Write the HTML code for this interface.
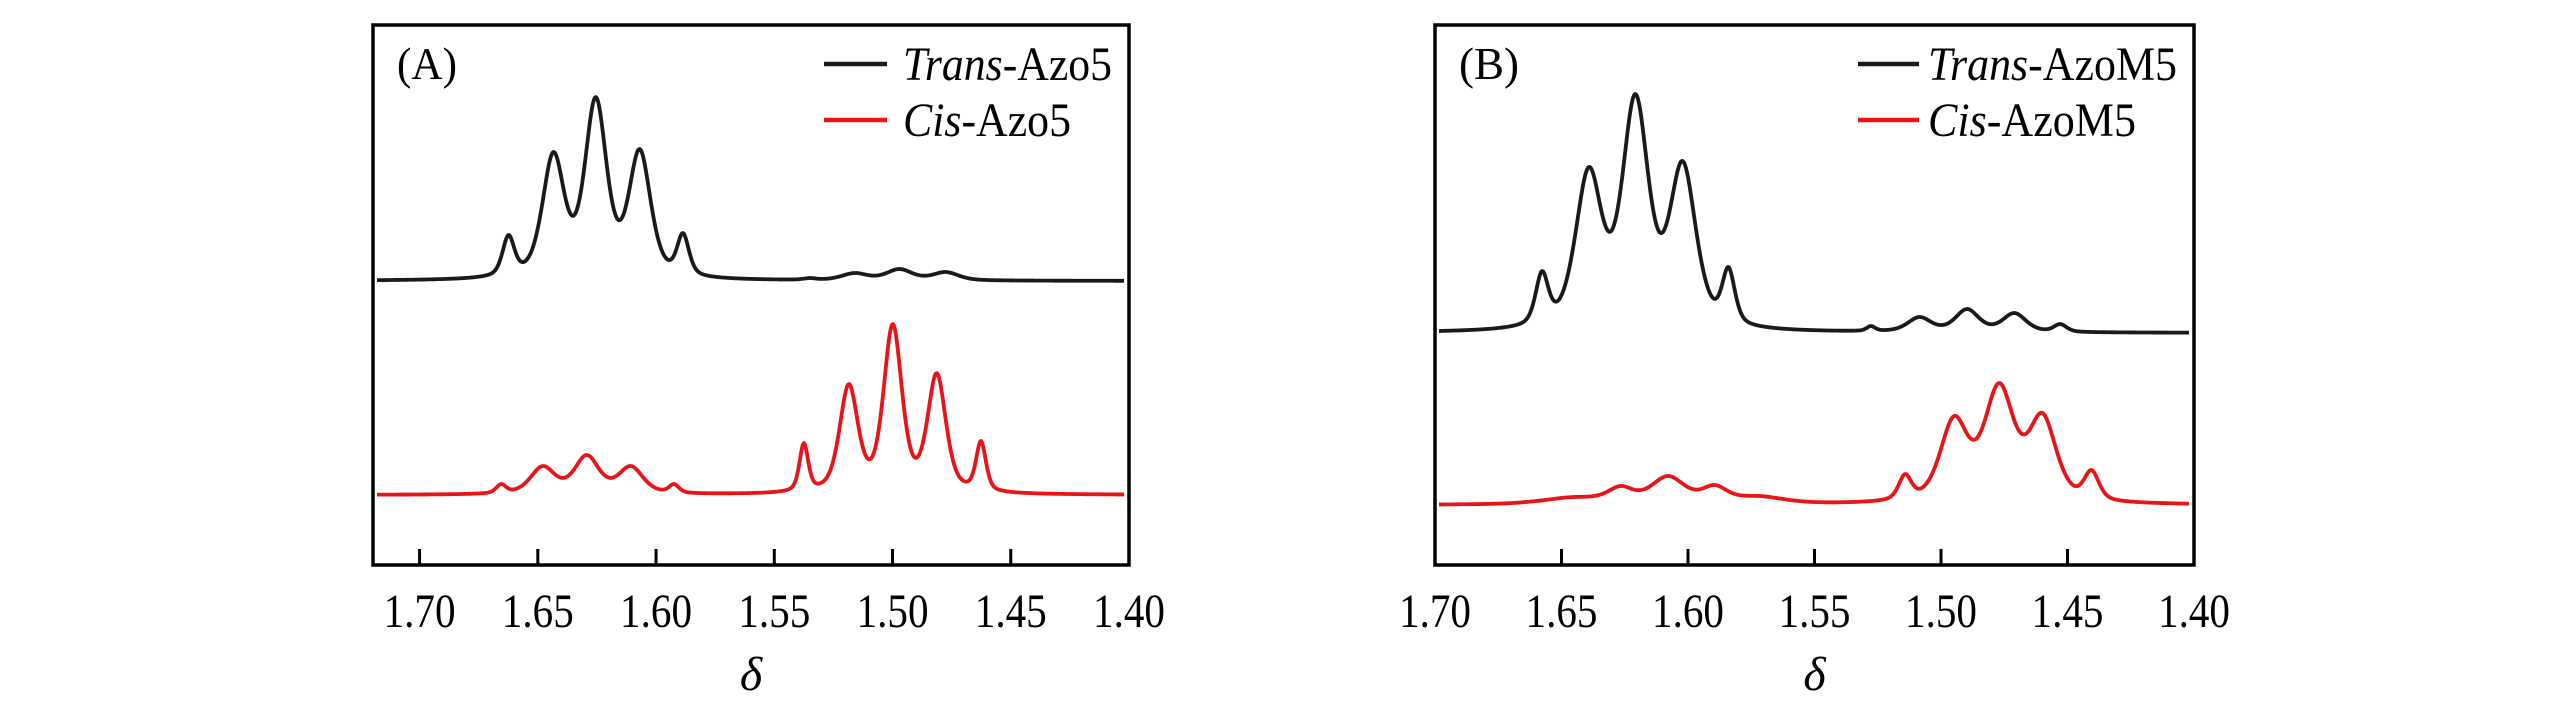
<!DOCTYPE html>
<html><head><meta charset="utf-8"><style>
html,body{margin:0;padding:0;background:#fff;}
svg{display:block;}
text{font-family:"Liberation Serif",serif;fill:#000;}
</style></head><body>
<svg id="fig" width="2567" height="709" viewBox="0 0 2567 709" xmlns="http://www.w3.org/2000/svg">
<rect width="2567" height="709" fill="#fff"/>
<g id="panelA"></g>
<g id="panelB"></g>
</svg>
<script>
// ---- Panel A data (ppm positions, peak heights above baseline in px-units, half widths ppm)
const aTicks = [1.70, 1.65, 1.60, 1.55, 1.50, 1.45, 1.40];
const aTickLabels = ["1.70","1.65","1.60","1.55","1.50","1.45","1.40"];
const aTransPos = [1.6624, 1.6434, 1.6255, 1.6069, 1.5886, 1.535, 1.516, 1.4971, 1.4775];
const aTransH   = [46, 129, 184, 132, 48, 3, 8, 12, 9];
const aTransW   = [0.003, 0.0055, 0.0055, 0.0055, 0.003, 0.003, 0.0065, 0.0065, 0.0065];
const aCisPos = [1.6655, 1.6479, 1.6293, 1.6107, 1.5924, 1.5375, 1.5185, 1.4999, 1.4813, 1.4626];
const aCisH   = [11, 29, 40, 29, 11, 52, 111, 171, 122, 54];
const aCisW   = [0.0025, 0.0062, 0.0062, 0.0062, 0.0025, 0.0022, 0.0046, 0.0046, 0.0046, 0.0025];
// ---- Panel B data
const bTicks = [1.70, 1.65, 1.60, 1.55, 1.50, 1.45, 1.40];
const bTickLabels = ["1.70","1.65","1.60","1.55","1.50","1.45","1.40"];
const bTransPos = [1.6577, 1.6392, 1.6208, 1.6021, 1.5840, 1.5277, 1.5085, 1.4897, 1.4710, 1.4529];
const bTransH   = [62, 166, 239, 172, 66, 7, 16, 24, 20, 9];
const bTransW   = [0.003, 0.0062, 0.0062, 0.0062, 0.003, 0.002, 0.0055, 0.0055, 0.0055, 0.003];
const bCisPos = [1.645, 1.6266, 1.6079, 1.5895, 1.572, 1.5142, 1.4948, 1.4770, 1.4599, 1.4405];
const bCisH   = [8, 19, 29, 20, 9, 31, 89, 122, 92, 35];
const bCisW   = [0.015, 0.006, 0.008, 0.006, 0.012, 0.003, 0.0065, 0.007, 0.0065, 0.0035];

const NS = "http://www.w3.org/2000/svg";
function mk(tag, attrs, parent){const e=document.createElementNS(NS,tag);for(const k in attrs)e.setAttribute(k,attrs[k]);parent.appendChild(e);return e;}

function lor(x,p,w){const d=(x-p)/w;return 0.5/(1+d*d)+0.5*Math.exp(-0.6931*d*d);}
function solveAmps(pos,h,w){
  const n=pos.length;const M=[];
  for(let i=0;i<n;i++){M.push([]);for(let j=0;j<n;j++)M[i].push(lor(pos[i],pos[j],w[j]));M[i].push(h[i]);}
  for(let c=0;c<n;c++){let piv=c;for(let r=c+1;r<n;r++)if(Math.abs(M[r][c])>Math.abs(M[piv][c]))piv=r;
    [M[c],M[piv]]=[M[piv],M[c]];
    for(let r=0;r<n;r++){if(r===c)continue;const f=M[r][c]/M[c][c];for(let k=c;k<=n;k++)M[r][k]-=f*M[c][k];}}
  return M.map((r,i)=>Math.max(0,r[n]/r[i]));
}

function panel(g, cfg){
  const {x0,x1,y0,y1,xmin,xmax} = cfg;
  const xs = v => x0 + (xmin - v)/(xmin - xmax)*(x1-x0);
  const ys = (v,base) => base - v;
  cfg.series.forEach(s=>{
    const amps = solveAmps(s.pos,s.h,s.w);
    let d="";
    for(let px=s.from; px<=s.to; px+=1){
      const ppm = xmin - (px-x0)/(x1-x0)*(xmin-xmax);
      let v=0; for(let i=0;i<amps.length;i++) v+=amps[i]*lor(ppm,s.pos[i],s.w[i]);
      d += (d?"L":"M")+px.toFixed(1)+","+ys(v,s.base).toFixed(2);
    }
    const p = mk("path",{d:d,fill:"none",stroke:s.color,"stroke-width":3.8,"stroke-linejoin":"round"},g);
    
    
  });
  const fr = mk("rect",{x:x0,y:y0,width:x1-x0,height:y1-y0,fill:"none",stroke:"#000","stroke-width":3.5},g);
  
  
  cfg.ticks.forEach((t,i)=>{
    const x = xs(t);
    if (x > x0+3 && x < x1-3) {
      const tk = mk("line",{x1:x,x2:x,y1:y1,y2:y1-16,stroke:"#000","stroke-width":3},g);
      
      
    }
    const lb = mk("text",{x:x,y:627,"text-anchor":"middle","font-size":48,textLength:72,lengthAdjust:"spacingAndGlyphs"},g);
    lb.textContent = cfg.tickLabels[i];
    
    
  });
  const at = mk("text",{x:(x0+x1)/2,y:690,"text-anchor":"middle","font-size":48,"font-style":"italic"},g);
  at.textContent = "δ";
  
  
  const pl = mk("text",{x:cfg.labelX,y:79,"font-size":46,textLength:60,lengthAdjust:"spacingAndGlyphs"},g);
  pl.textContent = cfg.label;
  
  
  cfg.legend.forEach((l,i)=>{
    const y = 64 + i*56;
    const ln = mk("line",{x1:cfg.legX0,x2:cfg.legX1,y1:y,y2:y,stroke:l.color,"stroke-width":4.5},g);
    
    
    const tx = mk("text",{x:cfg.legTX,y:y+16,"font-size":48,textLength:l.len,lengthAdjust:"spacingAndGlyphs"},g);
    const it = mk("tspan",{"font-style":"italic"},tx); it.textContent = l.it;
    const rest = mk("tspan",{},tx); rest.textContent = l.rest;
    
    
  });
}

panel(document.getElementById("panelA"),{
  x0:373,x1:1129,y0:25,y1:565,xmin:1.7197,xmax:1.40,
  ticks:aTicks,tickLabels:aTickLabels,label:"(A)",labelX:397,
  legX0:824,legX1:887,legTX:903,
  legend:[{color:"#1a1a1a",it:"Trans",rest:"-Azo5",len:209},{color:"#e8141a",it:"Cis",rest:"-Azo5",len:168}],
  series:[
    {name:"trans-azo5-spectrum",color:"#1a1a1a",base:281,from:377,to:1124,pos:aTransPos,h:aTransH,w:aTransW},
    {name:"cis-azo5-spectrum",color:"#e8141a",base:495,from:377,to:1124,pos:aCisPos,h:aCisH,w:aCisW}
  ]
});
panel(document.getElementById("panelB"),{
  x0:1435,x1:2194,y0:25,y1:565,xmin:1.70,xmax:1.40,
  ticks:bTicks,tickLabels:bTickLabels,label:"(B)",labelX:1459,
  legX0:1858,legX1:1919,legTX:1928,
  legend:[{color:"#1a1a1a",it:"Trans",rest:"-AzoM5",len:249},{color:"#e8141a",it:"Cis",rest:"-AzoM5",len:208}],
  series:[
    {name:"trans-azom5-spectrum",color:"#1a1a1a",base:333,from:1439,to:2189,pos:bTransPos,h:bTransH,w:bTransW},
    {name:"cis-azom5-spectrum",color:"#e8141a",base:505,from:1439,to:2189,pos:bCisPos,h:bCisH,w:bCisW}
  ]
});
</script>
</body></html>
